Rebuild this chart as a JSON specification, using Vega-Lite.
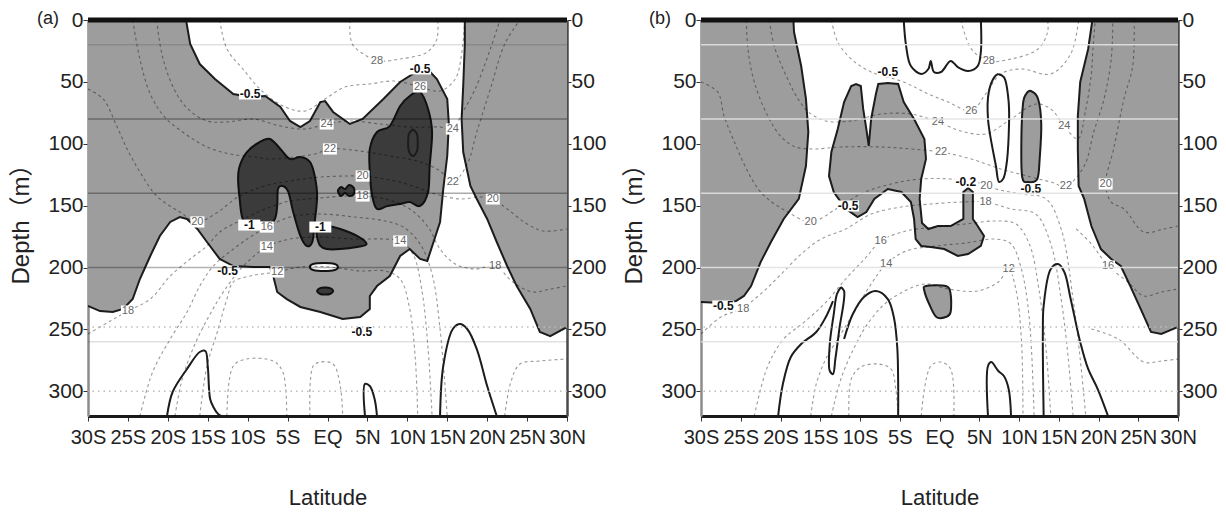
{
  "$schema": "https://vega.github.io/schema/vega-lite/v6.json",
  "background": "white",
  "padding": {"left": 9, "top": 9, "right": 5, "bottom": 2},
  "spacing": 15,
  "config": {
    "view": {"stroke": null},
    "font": "Liberation Sans",
    "axis": {
      "labelFont": "Liberation Sans",
      "labelFontSize": 21,
      "labelColor": "#222",
      "tickColor": "#333",
      "grid": false,
      "zindex": 1,
      "labelFlush": false,
      "labelOverlap": false,
      "titleFontWeight": "normal",
      "titleColor": "#222"
    }
  },
  "datasets": {
    "paths": [
      {"pn":"a","id":"ga1","k":"gray","lat":-31,"dep":-3},
      {"pn":"a","id":"ga1","k":"gray","lat":-17.8,"dep":-3},
      {"pn":"a","id":"ga1","k":"gray","lat":-17.2,"dep":19.4},
      {"pn":"a","id":"ga1","k":"gray","lat":-16.0,"dep":35.6},
      {"pn":"a","id":"ga1","k":"gray","lat":-14.1,"dep":47.7},
      {"pn":"a","id":"ga1","k":"gray","lat":-11.8,"dep":59.8},
      {"pn":"a","id":"ga1","k":"gray","lat":-9.7,"dep":62.2},
      {"pn":"a","id":"ga1","k":"gray","lat":-7.8,"dep":61.4},
      {"pn":"a","id":"ga1","k":"gray","lat":-5.9,"dep":70.3},
      {"pn":"a","id":"ga1","k":"gray","lat":-4.7,"dep":81.6},
      {"pn":"a","id":"ga1","k":"gray","lat":-3.4,"dep":86.5},
      {"pn":"a","id":"ga1","k":"gray","lat":-2.2,"dep":81.6},
      {"pn":"a","id":"ga1","k":"gray","lat":-0.9,"dep":66.3},
      {"pn":"a","id":"ga1","k":"gray","lat":-0.3,"dep":65.5},
      {"pn":"a","id":"ga1","k":"gray","lat":0.7,"dep":74.3},
      {"pn":"a","id":"ga1","k":"gray","lat":2.8,"dep":84.0},
      {"pn":"a","id":"ga1","k":"gray","lat":4.4,"dep":80.0},
      {"pn":"a","id":"ga1","k":"gray","lat":7.0,"dep":63.8},
      {"pn":"a","id":"ga1","k":"gray","lat":9.1,"dep":50.1},
      {"pn":"a","id":"ga1","k":"gray","lat":10.7,"dep":43.6},
      {"pn":"a","id":"ga1","k":"gray","lat":12.5,"dep":39.6},
      {"pn":"a","id":"ga1","k":"gray","lat":13.7,"dep":47.7},
      {"pn":"a","id":"ga1","k":"gray","lat":15.0,"dep":63.8},
      {"pn":"a","id":"ga1","k":"gray","lat":15.2,"dep":84.0},
      {"pn":"a","id":"ga1","k":"gray","lat":15.0,"dep":109.9},
      {"pn":"a","id":"ga1","k":"gray","lat":14.5,"dep":136.6},
      {"pn":"a","id":"ga1","k":"gray","lat":14.1,"dep":163.2},
      {"pn":"a","id":"ga1","k":"gray","lat":13.2,"dep":181.0},
      {"pn":"a","id":"ga1","k":"gray","lat":12.5,"dep":194.7},
      {"pn":"a","id":"ga1","k":"gray","lat":11.6,"dep":193.1},
      {"pn":"a","id":"ga1","k":"gray","lat":10.3,"dep":185.1},
      {"pn":"a","id":"ga1","k":"gray","lat":9.1,"dep":190.7},
      {"pn":"a","id":"ga1","k":"gray","lat":7.8,"dep":206.9},
      {"pn":"a","id":"ga1","k":"gray","lat":6.2,"dep":215.0},
      {"pn":"a","id":"ga1","k":"gray","lat":5.3,"dep":223.0},
      {"pn":"a","id":"ga1","k":"gray","lat":5.3,"dep":233.5},
      {"pn":"a","id":"ga1","k":"gray","lat":4.1,"dep":240.0},
      {"pn":"a","id":"ga1","k":"gray","lat":1.9,"dep":241.6},
      {"pn":"a","id":"ga1","k":"gray","lat":-0.9,"dep":236.0},
      {"pn":"a","id":"ga1","k":"gray","lat":-3.4,"dep":231.9},
      {"pn":"a","id":"ga1","k":"gray","lat":-5.1,"dep":225.5},
      {"pn":"a","id":"ga1","k":"gray","lat":-6.3,"dep":219.8},
      {"pn":"a","id":"ga1","k":"gray","lat":-6.8,"dep":206.9},
      {"pn":"a","id":"ga1","k":"gray","lat":-7.2,"dep":199.6},
      {"pn":"a","id":"ga1","k":"gray","lat":-9.3,"dep":199.6},
      {"pn":"a","id":"ga1","k":"gray","lat":-11.8,"dep":198.8},
      {"pn":"a","id":"ga1","k":"gray","lat":-13.5,"dep":193.1},
      {"pn":"a","id":"ga1","k":"gray","lat":-15.1,"dep":179.4},
      {"pn":"a","id":"ga1","k":"gray","lat":-16.3,"dep":168.9},
      {"pn":"a","id":"ga1","k":"gray","lat":-17.6,"dep":160.8},
      {"pn":"a","id":"ga1","k":"gray","lat":-18.5,"dep":159.2},
      {"pn":"a","id":"ga1","k":"gray","lat":-19.7,"dep":163.2},
      {"pn":"a","id":"ga1","k":"gray","lat":-21.0,"dep":174.5},
      {"pn":"a","id":"ga1","k":"gray","lat":-22.2,"dep":190.7},
      {"pn":"a","id":"ga1","k":"gray","lat":-23.5,"dep":209.3},
      {"pn":"a","id":"ga1","k":"gray","lat":-24.4,"dep":225.5},
      {"pn":"a","id":"ga1","k":"gray","lat":-25.6,"dep":233.5},
      {"pn":"a","id":"ga1","k":"gray","lat":-26.9,"dep":236.0},
      {"pn":"a","id":"ga1","k":"gray","lat":-28.5,"dep":235.2},
      {"pn":"a","id":"ga1","k":"gray","lat":-30,"dep":231.1},
      {"pn":"a","id":"ga1","k":"gray","lat":-31,"dep":231},

      {"pn":"a","id":"ga2","k":"gray","lat":17.2,"dep":-3},
      {"pn":"a","id":"ga2","k":"gray","lat":31,"dep":-3},
      {"pn":"a","id":"ga2","k":"gray","lat":31,"dep":248.1},
      {"pn":"a","id":"ga2","k":"gray","lat":30,"dep":248.1},
      {"pn":"a","id":"ga2","k":"gray","lat":27.9,"dep":255.4},
      {"pn":"a","id":"ga2","k":"gray","lat":26.6,"dep":252.1},
      {"pn":"a","id":"ga2","k":"gray","lat":25.4,"dep":233.5},
      {"pn":"a","id":"ga2","k":"gray","lat":23.7,"dep":215.0},
      {"pn":"a","id":"ga2","k":"gray","lat":22.5,"dep":198.8},
      {"pn":"a","id":"ga2","k":"gray","lat":21.2,"dep":179.4},
      {"pn":"a","id":"ga2","k":"gray","lat":20.0,"dep":160.8},
      {"pn":"a","id":"ga2","k":"gray","lat":18.7,"dep":144.6},
      {"pn":"a","id":"ga2","k":"gray","lat":17.9,"dep":134.1},
      {"pn":"a","id":"ga2","k":"gray","lat":17.0,"dep":106.7},
      {"pn":"a","id":"ga2","k":"gray","lat":16.8,"dep":80.0},
      {"pn":"a","id":"ga2","k":"gray","lat":17.0,"dep":53.3},
      {"pn":"a","id":"ga2","k":"gray","lat":17.2,"dep":19.4},

      {"pn":"a","id":"da1","k":"dark","lat":-11.0,"dep":118.0},
      {"pn":"a","id":"da1","k":"dark","lat":-10.1,"dep":106.7},
      {"pn":"a","id":"da1","k":"dark","lat":-8.5,"dep":98.6},
      {"pn":"a","id":"da1","k":"dark","lat":-7.2,"dep":96.2},
      {"pn":"a","id":"da1","k":"dark","lat":-5.9,"dep":104.2},
      {"pn":"a","id":"da1","k":"dark","lat":-4.7,"dep":112.3},
      {"pn":"a","id":"da1","k":"dark","lat":-3.4,"dep":110.7},
      {"pn":"a","id":"da1","k":"dark","lat":-2.2,"dep":114.7},
      {"pn":"a","id":"da1","k":"dark","lat":-1.6,"dep":126.1},
      {"pn":"a","id":"da1","k":"dark","lat":-1.3,"dep":142.2},
      {"pn":"a","id":"da1","k":"dark","lat":-1.6,"dep":163.2},
      {"pn":"a","id":"da1","k":"dark","lat":-1.9,"dep":179.4},
      {"pn":"a","id":"da1","k":"dark","lat":-2.6,"dep":182.6},
      {"pn":"a","id":"da1","k":"dark","lat":-3.4,"dep":174.5},
      {"pn":"a","id":"da1","k":"dark","lat":-4.3,"dep":155.2},
      {"pn":"a","id":"da1","k":"dark","lat":-4.9,"dep":139.0},
      {"pn":"a","id":"da1","k":"dark","lat":-5.6,"dep":134.1},
      {"pn":"a","id":"da1","k":"dark","lat":-6.2,"dep":136.6},
      {"pn":"a","id":"da1","k":"dark","lat":-6.3,"dep":150.3},
      {"pn":"a","id":"da1","k":"dark","lat":-6.6,"dep":160.8},
      {"pn":"a","id":"da1","k":"dark","lat":-7.6,"dep":166.5},
      {"pn":"a","id":"da1","k":"dark","lat":-9.3,"dep":166.5},
      {"pn":"a","id":"da1","k":"dark","lat":-10.6,"dep":160.8},
      {"pn":"a","id":"da1","k":"dark","lat":-11.0,"dep":144.6},
      {"pn":"a","id":"da1","k":"dark","lat":-11.2,"dep":128.5},

      {"pn":"a","id":"da2","k":"dark","lat":5.3,"dep":104.2},
      {"pn":"a","id":"da2","k":"dark","lat":6.2,"dep":90.5},
      {"pn":"a","id":"da2","k":"dark","lat":7.8,"dep":85.7},
      {"pn":"a","id":"da2","k":"dark","lat":9.1,"dep":69.5},
      {"pn":"a","id":"da2","k":"dark","lat":10.3,"dep":61.4},
      {"pn":"a","id":"da2","k":"dark","lat":11.6,"dep":58.2},
      {"pn":"a","id":"da2","k":"dark","lat":12.6,"dep":71.9},
      {"pn":"a","id":"da2","k":"dark","lat":13.1,"dep":90.5},
      {"pn":"a","id":"da2","k":"dark","lat":12.8,"dep":118.0},
      {"pn":"a","id":"da2","k":"dark","lat":12.6,"dep":139.0},
      {"pn":"a","id":"da2","k":"dark","lat":11.6,"dep":150.3},
      {"pn":"a","id":"da2","k":"dark","lat":10.3,"dep":147.1},
      {"pn":"a","id":"da2","k":"dark","lat":9.1,"dep":148.7},
      {"pn":"a","id":"da2","k":"dark","lat":7.5,"dep":150.3},
      {"pn":"a","id":"da2","k":"dark","lat":6.2,"dep":152.7},
      {"pn":"a","id":"da2","k":"dark","lat":5.6,"dep":142.2},
      {"pn":"a","id":"da2","k":"dark","lat":5.3,"dep":122.8},

      {"pn":"a","id":"da3","k":"dark","lat":1.3,"dep":138.2},
      {"pn":"a","id":"da3","k":"dark","lat":1.7,"dep":135.0},
      {"pn":"a","id":"da3","k":"dark","lat":2.2,"dep":136.6},
      {"pn":"a","id":"da3","k":"dark","lat":2.7,"dep":133.3},
      {"pn":"a","id":"da3","k":"dark","lat":3.3,"dep":135.8},
      {"pn":"a","id":"da3","k":"dark","lat":3.3,"dep":140.6},
      {"pn":"a","id":"da3","k":"dark","lat":2.7,"dep":142.2},
      {"pn":"a","id":"da3","k":"dark","lat":2.2,"dep":139.8},
      {"pn":"a","id":"da3","k":"dark","lat":1.7,"dep":142.2},

      {"pn":"a","id":"da4","k":"dark","lat":-1.3,"dep":168.9},
      {"pn":"a","id":"da4","k":"dark","lat":-0.1,"dep":166.5},
      {"pn":"a","id":"da4","k":"dark","lat":1.6,"dep":168.9},
      {"pn":"a","id":"da4","k":"dark","lat":3.7,"dep":174.5},
      {"pn":"a","id":"da4","k":"dark","lat":4.9,"dep":181.0},
      {"pn":"a","id":"da4","k":"dark","lat":3.7,"dep":183.4},
      {"pn":"a","id":"da4","k":"dark","lat":1.6,"dep":185.1},
      {"pn":"a","id":"da4","k":"dark","lat":-0.1,"dep":185.1},
      {"pn":"a","id":"da4","k":"dark","lat":-0.9,"dep":182.6},
      {"pn":"a","id":"da4","k":"dark","lat":-1.3,"dep":175.4},

      {"pn":"a","id":"da5","k":"dark","lat":-1.3,"dep":219.0},
      {"pn":"a","id":"da5","k":"dark","lat":-0.9,"dep":216.6},
      {"pn":"a","id":"da5","k":"dark","lat":-0.3,"dep":216.2},
      {"pn":"a","id":"da5","k":"dark","lat":0.3,"dep":216.6},
      {"pn":"a","id":"da5","k":"dark","lat":0.7,"dep":219.0},
      {"pn":"a","id":"da5","k":"dark","lat":0.3,"dep":221.4},
      {"pn":"a","id":"da5","k":"dark","lat":-0.3,"dep":221.8},
      {"pn":"a","id":"da5","k":"dark","lat":-0.9,"dep":221.4},

      {"pn":"a","id":"wa1","k":"hole","lat":-2.2,"dep":199.6},
      {"pn":"a","id":"wa1","k":"hole","lat":-1.8,"dep":197.2},
      {"pn":"a","id":"wa1","k":"hole","lat":-0.4,"dep":196.4},
      {"pn":"a","id":"wa1","k":"hole","lat":0.9,"dep":197.2},
      {"pn":"a","id":"wa1","k":"hole","lat":1.3,"dep":199.6},
      {"pn":"a","id":"wa1","k":"hole","lat":0.9,"dep":202.0},
      {"pn":"a","id":"wa1","k":"hole","lat":-0.4,"dep":202.8},
      {"pn":"a","id":"wa1","k":"hole","lat":-1.8,"dep":202.0},

      {"pn":"a","id":"oa1","k":"line","lat":-20.1,"dep":320},
      {"pn":"a","id":"oa1","k":"line","lat":-19.4,"dep":300.6},
      {"pn":"a","id":"oa1","k":"line","lat":-17.6,"dep":282.0},
      {"pn":"a","id":"oa1","k":"line","lat":-16.0,"dep":268.3},
      {"pn":"a","id":"oa1","k":"line","lat":-15.3,"dep":267.5},
      {"pn":"a","id":"oa1","k":"line","lat":-15.0,"dep":279.6},
      {"pn":"a","id":"oa1","k":"line","lat":-14.7,"dep":306.3},
      {"pn":"a","id":"oa1","k":"line","lat":-14.3,"dep":312.7},
      {"pn":"a","id":"oa1","k":"line","lat":-13.7,"dep":318.4},
      {"pn":"a","id":"oa1","k":"line","lat":-13.3,"dep":320},
      {"pn":"a","id":"oa2","k":"line","lat":14.1,"dep":320},
      {"pn":"a","id":"oa2","k":"line","lat":14.5,"dep":279.6},
      {"pn":"a","id":"oa2","k":"line","lat":15.7,"dep":249.7},
      {"pn":"a","id":"oa2","k":"line","lat":16.6,"dep":245.7},
      {"pn":"a","id":"oa2","k":"line","lat":17.5,"dep":249.7},
      {"pn":"a","id":"oa2","k":"line","lat":18.7,"dep":265.9},
      {"pn":"a","id":"oa2","k":"line","lat":20.0,"dep":295.8},
      {"pn":"a","id":"oa2","k":"line","lat":21.2,"dep":320},
      {"pn":"a","id":"oa3","k":"line","lat":4.7,"dep":320},
      {"pn":"a","id":"oa3","k":"line","lat":4.7,"dep":294.1},
      {"pn":"a","id":"oa3","k":"line","lat":5.3,"dep":295.8},
      {"pn":"a","id":"oa3","k":"line","lat":5.9,"dep":306.3},
      {"pn":"a","id":"oa3","k":"line","lat":6.2,"dep":320},
      {"pn":"a","id":"oa4","k":"line","lat":10.7,"dep":88.1},
      {"pn":"a","id":"oa4","k":"line","lat":11.2,"dep":92.1},
      {"pn":"a","id":"oa4","k":"line","lat":11.3,"dep":98.6},
      {"pn":"a","id":"oa4","k":"line","lat":11.2,"dep":105.9},
      {"pn":"a","id":"oa4","k":"line","lat":10.7,"dep":109.9},
      {"pn":"a","id":"oa4","k":"line","lat":10.2,"dep":105.9},
      {"pn":"a","id":"oa4","k":"line","lat":10.1,"dep":98.6},
      {"pn":"a","id":"oa4","k":"line","lat":10.2,"dep":92.1},
      {"pn":"a","id":"oa4","k":"line","lat":10.7,"dep":88.1},

      {"pn":"a","id":"t28","k":"iso","lat":2.8,"dep":0},
      {"pn":"a","id":"t28","k":"iso","lat":3.1,"dep":19.4},
      {"pn":"a","id":"t28","k":"iso","lat":4.9,"dep":29.1},
      {"pn":"a","id":"t28","k":"iso","lat":6.2,"dep":33.1},
      {"pn":"a","id":"t28","k":"iso","lat":9.1,"dep":31.5},
      {"pn":"a","id":"t28","k":"iso","lat":12.5,"dep":25.9},
      {"pn":"a","id":"t28","k":"iso","lat":13.7,"dep":15.4},
      {"pn":"a","id":"t28","k":"iso","lat":13.8,"dep":0},
      {"pn":"a","id":"t26","k":"iso","lat":-13.5,"dep":0},
      {"pn":"a","id":"t26","k":"iso","lat":-12.6,"dep":23.4},
      {"pn":"a","id":"t26","k":"iso","lat":-10.6,"dep":39.6},
      {"pn":"a","id":"t26","k":"iso","lat":-8.2,"dep":57.4},
      {"pn":"a","id":"t26","k":"iso","lat":-5.3,"dep":70.3},
      {"pn":"a","id":"t26","k":"iso","lat":-2.8,"dep":73.5},
      {"pn":"a","id":"t26","k":"iso","lat":-0.3,"dep":63.8},
      {"pn":"a","id":"t26","k":"iso","lat":2.2,"dep":54.1},
      {"pn":"a","id":"t26","k":"iso","lat":5.3,"dep":51.7},
      {"pn":"a","id":"t26","k":"iso","lat":8.5,"dep":49.3},
      {"pn":"a","id":"t26","k":"iso","lat":11.6,"dep":54.1},
      {"pn":"a","id":"t26","k":"iso","lat":14.1,"dep":57.4},
      {"pn":"a","id":"t26","k":"iso","lat":16.0,"dep":47.7},
      {"pn":"a","id":"t26","k":"iso","lat":16.8,"dep":27.5},
      {"pn":"a","id":"t26","k":"iso","lat":17.2,"dep":0},
      {"pn":"a","id":"t24","k":"iso","lat":-21.4,"dep":0},
      {"pn":"a","id":"t24","k":"iso","lat":-20.6,"dep":31.5},
      {"pn":"a","id":"t24","k":"iso","lat":-18.9,"dep":59.8},
      {"pn":"a","id":"t24","k":"iso","lat":-17.2,"dep":73.5},
      {"pn":"a","id":"t24","k":"iso","lat":-15.1,"dep":81.6},
      {"pn":"a","id":"t24","k":"iso","lat":-12.6,"dep":82.4},
      {"pn":"a","id":"t24","k":"iso","lat":-9.3,"dep":80.0},
      {"pn":"a","id":"t24","k":"iso","lat":-5.9,"dep":85.7},
      {"pn":"a","id":"t24","k":"iso","lat":-2.8,"dep":88.1},
      {"pn":"a","id":"t24","k":"iso","lat":-0.1,"dep":84.0},
      {"pn":"a","id":"t24","k":"iso","lat":2.8,"dep":81.6},
      {"pn":"a","id":"t24","k":"iso","lat":6.6,"dep":84.0},
      {"pn":"a","id":"t24","k":"iso","lat":10.3,"dep":86.5},
      {"pn":"a","id":"t24","k":"iso","lat":14.1,"dep":86.5},
      {"pn":"a","id":"t24","k":"iso","lat":15.7,"dep":88.1},
      {"pn":"a","id":"t24","k":"iso","lat":16.8,"dep":76.0},
      {"pn":"a","id":"t24","k":"iso","lat":18.5,"dep":55.8},
      {"pn":"a","id":"t24","k":"iso","lat":20.4,"dep":23.4},
      {"pn":"a","id":"t24","k":"iso","lat":21.6,"dep":0},
      {"pn":"a","id":"t22","k":"iso","lat":-24.4,"dep":0},
      {"pn":"a","id":"t22","k":"iso","lat":-23.5,"dep":31.5},
      {"pn":"a","id":"t22","k":"iso","lat":-22.2,"dep":59.8},
      {"pn":"a","id":"t22","k":"iso","lat":-20.4,"dep":78.4},
      {"pn":"a","id":"t22","k":"iso","lat":-17.8,"dep":92.1},
      {"pn":"a","id":"t22","k":"iso","lat":-15.1,"dep":102.6},
      {"pn":"a","id":"t22","k":"iso","lat":-12.2,"dep":108.3},
      {"pn":"a","id":"t22","k":"iso","lat":-9.1,"dep":110.7},
      {"pn":"a","id":"t22","k":"iso","lat":-7.2,"dep":112.3},
      {"pn":"a","id":"t22","k":"iso","lat":-4.1,"dep":110.7},
      {"pn":"a","id":"t22","k":"iso","lat":-1.6,"dep":108.3},
      {"pn":"a","id":"t22","k":"iso","lat":0.3,"dep":104.2},
      {"pn":"a","id":"t22","k":"iso","lat":4.1,"dep":105.9},
      {"pn":"a","id":"t22","k":"iso","lat":7.8,"dep":109.9},
      {"pn":"a","id":"t22","k":"iso","lat":11.6,"dep":114.7},
      {"pn":"a","id":"t22","k":"iso","lat":14.1,"dep":122.0},
      {"pn":"a","id":"t22","k":"iso","lat":15.7,"dep":130.9},
      {"pn":"a","id":"t22","k":"iso","lat":17.5,"dep":116.4},
      {"pn":"a","id":"t22","k":"iso","lat":18.7,"dep":90.5},
      {"pn":"a","id":"t22","k":"iso","lat":20.4,"dep":55.8},
      {"pn":"a","id":"t22","k":"iso","lat":22.2,"dep":19.4},
      {"pn":"a","id":"t22","k":"iso","lat":24.1,"dep":0},
      {"pn":"a","id":"t20","k":"iso","lat":-30,"dep":55.8},
      {"pn":"a","id":"t20","k":"iso","lat":-28.1,"dep":63.8},
      {"pn":"a","id":"t20","k":"iso","lat":-26.4,"dep":85.7},
      {"pn":"a","id":"t20","k":"iso","lat":-25.1,"dep":104.2},
      {"pn":"a","id":"t20","k":"iso","lat":-23.5,"dep":122.8},
      {"pn":"a","id":"t20","k":"iso","lat":-21.4,"dep":142.2},
      {"pn":"a","id":"t20","k":"iso","lat":-18.5,"dep":155.2},
      {"pn":"a","id":"t20","k":"iso","lat":-16.3,"dep":163.2},
      {"pn":"a","id":"t20","k":"iso","lat":-14.1,"dep":156.8},
      {"pn":"a","id":"t20","k":"iso","lat":-11.0,"dep":142.2},
      {"pn":"a","id":"t20","k":"iso","lat":-7.8,"dep":134.1},
      {"pn":"a","id":"t20","k":"iso","lat":-4.7,"dep":130.1},
      {"pn":"a","id":"t20","k":"iso","lat":-0.9,"dep":126.9},
      {"pn":"a","id":"t20","k":"iso","lat":2.2,"dep":126.1},
      {"pn":"a","id":"t20","k":"iso","lat":4.4,"dep":126.1},
      {"pn":"a","id":"t20","k":"iso","lat":7.2,"dep":128.5},
      {"pn":"a","id":"t20","k":"iso","lat":10.3,"dep":133.3},
      {"pn":"a","id":"t20","k":"iso","lat":13.5,"dep":140.6},
      {"pn":"a","id":"t20","k":"iso","lat":16.6,"dep":144.6},
      {"pn":"a","id":"t20","k":"iso","lat":19.1,"dep":143.0},
      {"pn":"a","id":"t20","k":"iso","lat":20.7,"dep":144.6},
      {"pn":"a","id":"t20","k":"iso","lat":22.5,"dep":152.7},
      {"pn":"a","id":"t20","k":"iso","lat":25.0,"dep":164.8},
      {"pn":"a","id":"t20","k":"iso","lat":27.0,"dep":170.5},
      {"pn":"a","id":"t20","k":"iso","lat":30,"dep":168.9},
      {"pn":"a","id":"t18","k":"iso","lat":-30,"dep":253.7},
      {"pn":"a","id":"t18","k":"iso","lat":-27.2,"dep":243.2},
      {"pn":"a","id":"t18","k":"iso","lat":-25.0,"dep":235.2},
      {"pn":"a","id":"t18","k":"iso","lat":-22.2,"dep":225.5},
      {"pn":"a","id":"t18","k":"iso","lat":-19.7,"dep":206.9},
      {"pn":"a","id":"t18","k":"iso","lat":-17.2,"dep":193.1},
      {"pn":"a","id":"t18","k":"iso","lat":-15.1,"dep":182.6},
      {"pn":"a","id":"t18","k":"iso","lat":-13.5,"dep":171.3},
      {"pn":"a","id":"t18","k":"iso","lat":-11.0,"dep":162.4},
      {"pn":"a","id":"t18","k":"iso","lat":-7.8,"dep":152.7},
      {"pn":"a","id":"t18","k":"iso","lat":-4.7,"dep":146.3},
      {"pn":"a","id":"t18","k":"iso","lat":-0.9,"dep":143.8},
      {"pn":"a","id":"t18","k":"iso","lat":2.2,"dep":142.2},
      {"pn":"a","id":"t18","k":"iso","lat":4.4,"dep":142.2},
      {"pn":"a","id":"t18","k":"iso","lat":7.2,"dep":144.6},
      {"pn":"a","id":"t18","k":"iso","lat":10.3,"dep":152.7},
      {"pn":"a","id":"t18","k":"iso","lat":12.6,"dep":167.3},
      {"pn":"a","id":"t18","k":"iso","lat":14.1,"dep":185.1},
      {"pn":"a","id":"t18","k":"iso","lat":16.0,"dep":197.2},
      {"pn":"a","id":"t18","k":"iso","lat":18.5,"dep":201.2},
      {"pn":"a","id":"t18","k":"iso","lat":21.0,"dep":198.8},
      {"pn":"a","id":"t18","k":"iso","lat":23.2,"dep":211.7},
      {"pn":"a","id":"t18","k":"iso","lat":25.7,"dep":219.8},
      {"pn":"a","id":"t18","k":"iso","lat":27.9,"dep":217.4},
      {"pn":"a","id":"t18","k":"iso","lat":30,"dep":215.0},
      {"pn":"a","id":"t16","k":"iso","lat":-23.5,"dep":320},
      {"pn":"a","id":"t16","k":"iso","lat":-21.9,"dep":284.4},
      {"pn":"a","id":"t16","k":"iso","lat":-19.7,"dep":257.8},
      {"pn":"a","id":"t16","k":"iso","lat":-17.6,"dep":236.0},
      {"pn":"a","id":"t16","k":"iso","lat":-16.0,"dep":215.0},
      {"pn":"a","id":"t16","k":"iso","lat":-14.3,"dep":198.8},
      {"pn":"a","id":"t16","k":"iso","lat":-11.8,"dep":185.1},
      {"pn":"a","id":"t16","k":"iso","lat":-9.7,"dep":175.4},
      {"pn":"a","id":"t16","k":"iso","lat":-7.6,"dep":167.3},
      {"pn":"a","id":"t16","k":"iso","lat":-4.7,"dep":159.2},
      {"pn":"a","id":"t16","k":"iso","lat":-0.9,"dep":156.8},
      {"pn":"a","id":"t16","k":"iso","lat":3.4,"dep":159.2},
      {"pn":"a","id":"t16","k":"iso","lat":7.2,"dep":162.4},
      {"pn":"a","id":"t16","k":"iso","lat":9.5,"dep":167.3},
      {"pn":"a","id":"t16","k":"iso","lat":11.6,"dep":181.0},
      {"pn":"a","id":"t16","k":"iso","lat":13.1,"dep":205.3},
      {"pn":"a","id":"t16","k":"iso","lat":14.1,"dep":249.7},
      {"pn":"a","id":"t16","k":"iso","lat":15.0,"dep":320},
      {"pn":"a","id":"t14","k":"iso","lat":-19.1,"dep":320},
      {"pn":"a","id":"t14","k":"iso","lat":-18.2,"dep":290.1},
      {"pn":"a","id":"t14","k":"iso","lat":-16.6,"dep":261.8},
      {"pn":"a","id":"t14","k":"iso","lat":-14.7,"dep":237.6},
      {"pn":"a","id":"t14","k":"iso","lat":-12.8,"dep":217.4},
      {"pn":"a","id":"t14","k":"iso","lat":-10.3,"dep":197.2},
      {"pn":"a","id":"t14","k":"iso","lat":-7.6,"dep":183.4},
      {"pn":"a","id":"t14","k":"iso","lat":-4.7,"dep":177.0},
      {"pn":"a","id":"t14","k":"iso","lat":-0.9,"dep":175.4},
      {"pn":"a","id":"t14","k":"iso","lat":3.4,"dep":177.0},
      {"pn":"a","id":"t14","k":"iso","lat":7.2,"dep":177.0},
      {"pn":"a","id":"t14","k":"iso","lat":9.1,"dep":178.6},
      {"pn":"a","id":"t14","k":"iso","lat":10.7,"dep":189.1},
      {"pn":"a","id":"t14","k":"iso","lat":11.8,"dep":217.4},
      {"pn":"a","id":"t14","k":"iso","lat":12.6,"dep":265.9},
      {"pn":"a","id":"t14","k":"iso","lat":13.1,"dep":320},
      {"pn":"a","id":"t12","k":"iso","lat":-16.0,"dep":320},
      {"pn":"a","id":"t12","k":"iso","lat":-15.1,"dep":279.6},
      {"pn":"a","id":"t12","k":"iso","lat":-13.8,"dep":252.1},
      {"pn":"a","id":"t12","k":"iso","lat":-12.6,"dep":225.5},
      {"pn":"a","id":"t12","k":"iso","lat":-11.8,"dep":211.7},
      {"pn":"a","id":"t12","k":"iso","lat":-9.7,"dep":206.9},
      {"pn":"a","id":"t12","k":"iso","lat":-6.3,"dep":203.6},
      {"pn":"a","id":"t12","k":"iso","lat":-3.4,"dep":199.6},
      {"pn":"a","id":"t12","k":"iso","lat":0.3,"dep":199.6},
      {"pn":"a","id":"t12","k":"iso","lat":4.1,"dep":202.8},
      {"pn":"a","id":"t12","k":"iso","lat":7.2,"dep":202.8},
      {"pn":"a","id":"t12","k":"iso","lat":9.1,"dep":209.3},
      {"pn":"a","id":"t12","k":"iso","lat":10.3,"dep":233.5},
      {"pn":"a","id":"t12","k":"iso","lat":11.0,"dep":273.9},
      {"pn":"a","id":"t12","k":"iso","lat":11.3,"dep":320},
      {"pn":"a","id":"t10a","k":"iso","lat":-12.6,"dep":320},
      {"pn":"a","id":"t10a","k":"iso","lat":-11.8,"dep":279.6},
      {"pn":"a","id":"t10a","k":"iso","lat":-10.1,"dep":273.9},
      {"pn":"a","id":"t10a","k":"iso","lat":-6.8,"dep":275.6},
      {"pn":"a","id":"t10a","k":"iso","lat":-5.6,"dep":284.4},
      {"pn":"a","id":"t10a","k":"iso","lat":-5.1,"dep":320},
      {"pn":"a","id":"t10b","k":"iso","lat":-2.2,"dep":320},
      {"pn":"a","id":"t10b","k":"iso","lat":-1.8,"dep":279.6},
      {"pn":"a","id":"t10b","k":"iso","lat":-0.9,"dep":276.4},
      {"pn":"a","id":"t10b","k":"iso","lat":0.7,"dep":278.0},
      {"pn":"a","id":"t10b","k":"iso","lat":1.6,"dep":295.8},
      {"pn":"a","id":"t10b","k":"iso","lat":1.9,"dep":320},
      {"pn":"a","id":"tra","k":"iso","lat":22.2,"dep":320},
      {"pn":"a","id":"tra","k":"iso","lat":22.9,"dep":294.1},
      {"pn":"a","id":"tra","k":"iso","lat":24.1,"dep":278.0},
      {"pn":"a","id":"tra","k":"iso","lat":26.6,"dep":275.6},
      {"pn":"a","id":"tra","k":"iso","lat":30,"dep":273.9},

      {"pn":"b","id":"gb1","k":"gray","lat":-31,"dep":-3},
      {"pn":"b","id":"gb1","k":"gray","lat":-18.4,"dep":-3},
      {"pn":"b","id":"gb1","k":"gray","lat":-18.3,"dep":9.7},
      {"pn":"b","id":"gb1","k":"gray","lat":-17.4,"dep":37.2},
      {"pn":"b","id":"gb1","k":"gray","lat":-16.8,"dep":63.8},
      {"pn":"b","id":"gb1","k":"gray","lat":-16.5,"dep":90.5},
      {"pn":"b","id":"gb1","k":"gray","lat":-16.8,"dep":118.0},
      {"pn":"b","id":"gb1","k":"gray","lat":-17.7,"dep":144.6},
      {"pn":"b","id":"gb1","k":"gray","lat":-19.6,"dep":160.8},
      {"pn":"b","id":"gb1","k":"gray","lat":-21.2,"dep":179.4},
      {"pn":"b","id":"gb1","k":"gray","lat":-22.5,"dep":195.6},
      {"pn":"b","id":"gb1","k":"gray","lat":-23.7,"dep":215.0},
      {"pn":"b","id":"gb1","k":"gray","lat":-24.6,"dep":223.0},
      {"pn":"b","id":"gb1","k":"gray","lat":-25.6,"dep":227.1},
      {"pn":"b","id":"gb1","k":"gray","lat":-27.5,"dep":228.7},
      {"pn":"b","id":"gb1","k":"gray","lat":-30,"dep":227.9},
      {"pn":"b","id":"gb1","k":"gray","lat":-31,"dep":227.9},

      {"pn":"b","id":"gb2","k":"gray","lat":19.3,"dep":-3},
      {"pn":"b","id":"gb2","k":"gray","lat":31,"dep":-3},
      {"pn":"b","id":"gb2","k":"gray","lat":31,"dep":248.1},
      {"pn":"b","id":"gb2","k":"gray","lat":30,"dep":248.1},
      {"pn":"b","id":"gb2","k":"gray","lat":27.9,"dep":253.7},
      {"pn":"b","id":"gb2","k":"gray","lat":26.6,"dep":252.1},
      {"pn":"b","id":"gb2","k":"gray","lat":25.3,"dep":233.5},
      {"pn":"b","id":"gb2","k":"gray","lat":24.0,"dep":215.0},
      {"pn":"b","id":"gb2","k":"gray","lat":22.8,"dep":198.8},
      {"pn":"b","id":"gb2","k":"gray","lat":21.6,"dep":193.1},
      {"pn":"b","id":"gb2","k":"gray","lat":20.3,"dep":185.1},
      {"pn":"b","id":"gb2","k":"gray","lat":19.1,"dep":166.5},
      {"pn":"b","id":"gb2","k":"gray","lat":18.2,"dep":144.6},
      {"pn":"b","id":"gb2","k":"gray","lat":17.5,"dep":134.1},
      {"pn":"b","id":"gb2","k":"gray","lat":17.4,"dep":104.2},
      {"pn":"b","id":"gb2","k":"gray","lat":17.4,"dep":77.6},
      {"pn":"b","id":"gb2","k":"gray","lat":17.7,"dep":50.1},
      {"pn":"b","id":"gb2","k":"gray","lat":18.7,"dep":23.4},

      {"pn":"b","id":"gb3","k":"gray","lat":-11.1,"dep":53.3},
      {"pn":"b","id":"gb3","k":"gray","lat":-12.0,"dep":66.3},
      {"pn":"b","id":"gb3","k":"gray","lat":-12.8,"dep":88.1},
      {"pn":"b","id":"gb3","k":"gray","lat":-13.6,"dep":106.7},
      {"pn":"b","id":"gb3","k":"gray","lat":-13.9,"dep":126.1},
      {"pn":"b","id":"gb3","k":"gray","lat":-13.3,"dep":139.0},
      {"pn":"b","id":"gb3","k":"gray","lat":-12.4,"dep":147.1},
      {"pn":"b","id":"gb3","k":"gray","lat":-11.4,"dep":154.3},
      {"pn":"b","id":"gb3","k":"gray","lat":-10.3,"dep":159.2},
      {"pn":"b","id":"gb3","k":"gray","lat":-9.2,"dep":155.2},
      {"pn":"b","id":"gb3","k":"gray","lat":-8.2,"dep":144.6},
      {"pn":"b","id":"gb3","k":"gray","lat":-6.5,"dep":136.6},
      {"pn":"b","id":"gb3","k":"gray","lat":-4.8,"dep":139.0},
      {"pn":"b","id":"gb3","k":"gray","lat":-3.6,"dep":147.1},
      {"pn":"b","id":"gb3","k":"gray","lat":-3.2,"dep":160.8},
      {"pn":"b","id":"gb3","k":"gray","lat":-3.0,"dep":177.0},
      {"pn":"b","id":"gb3","k":"gray","lat":-2.3,"dep":182.6},
      {"pn":"b","id":"gb3","k":"gray","lat":-1.1,"dep":183.4},
      {"pn":"b","id":"gb3","k":"gray","lat":0.6,"dep":185.1},
      {"pn":"b","id":"gb3","k":"gray","lat":2.3,"dep":190.7},
      {"pn":"b","id":"gb3","k":"gray","lat":3.6,"dep":189.1},
      {"pn":"b","id":"gb3","k":"gray","lat":5.2,"dep":182.6},
      {"pn":"b","id":"gb3","k":"gray","lat":5.6,"dep":174.5},
      {"pn":"b","id":"gb3","k":"gray","lat":4.8,"dep":166.5},
      {"pn":"b","id":"gb3","k":"gray","lat":4.2,"dep":160.8},
      {"pn":"b","id":"gb3","k":"gray","lat":4.2,"dep":139.0},
      {"pn":"b","id":"gb3","k":"gray","lat":3.6,"dep":135.8},
      {"pn":"b","id":"gb3","k":"gray","lat":3.0,"dep":139.0},
      {"pn":"b","id":"gb3","k":"gray","lat":3.0,"dep":160.8},
      {"pn":"b","id":"gb3","k":"gray","lat":1.4,"dep":166.5},
      {"pn":"b","id":"gb3","k":"gray","lat":-0.2,"dep":166.5},
      {"pn":"b","id":"gb3","k":"gray","lat":-1.4,"dep":168.9},
      {"pn":"b","id":"gb3","k":"gray","lat":-2.2,"dep":164.0},
      {"pn":"b","id":"gb3","k":"gray","lat":-2.5,"dep":144.6},
      {"pn":"b","id":"gb3","k":"gray","lat":-2.3,"dep":128.5},
      {"pn":"b","id":"gb3","k":"gray","lat":-1.7,"dep":112.3},
      {"pn":"b","id":"gb3","k":"gray","lat":-1.9,"dep":96.2},
      {"pn":"b","id":"gb3","k":"gray","lat":-3.2,"dep":80.0},
      {"pn":"b","id":"gb3","k":"gray","lat":-4.5,"dep":66.3},
      {"pn":"b","id":"gb3","k":"gray","lat":-5.2,"dep":51.7},
      {"pn":"b","id":"gb3","k":"gray","lat":-6.5,"dep":50.9},
      {"pn":"b","id":"gb3","k":"gray","lat":-7.7,"dep":51.7},
      {"pn":"b","id":"gb3","k":"gray","lat":-8.0,"dep":59.8},
      {"pn":"b","id":"gb3","k":"gray","lat":-8.6,"dep":80.0},
      {"pn":"b","id":"gb3","k":"gray","lat":-8.9,"dep":101.8},
      {"pn":"b","id":"gb3","k":"gray","lat":-9.2,"dep":88.1},
      {"pn":"b","id":"gb3","k":"gray","lat":-9.6,"dep":71.9},
      {"pn":"b","id":"gb3","k":"gray","lat":-9.9,"dep":53.3},
      {"pn":"b","id":"gb3","k":"gray","lat":-10.5,"dep":51.7},

      {"pn":"b","id":"gb4","k":"grayc","lat":-1.7,"dep":215.0},
      {"pn":"b","id":"gb4","k":"grayc","lat":0.8,"dep":215.0},
      {"pn":"b","id":"gb4","k":"grayc","lat":1.4,"dep":221.4},
      {"pn":"b","id":"gb4","k":"grayc","lat":1.4,"dep":236.0},
      {"pn":"b","id":"gb4","k":"grayc","lat":0.8,"dep":240.0},
      {"pn":"b","id":"gb4","k":"grayc","lat":-0.4,"dep":240.0},
      {"pn":"b","id":"gb4","k":"grayc","lat":-1.3,"dep":229.5},
      {"pn":"b","id":"gb4","k":"grayc","lat":-1.9,"dep":219.0},

      {"pn":"b","id":"gb5","k":"grayc","lat":11.5,"dep":57.4},
      {"pn":"b","id":"gb5","k":"grayc","lat":12.4,"dep":63.8},
      {"pn":"b","id":"gb5","k":"grayc","lat":12.8,"dep":84.0},
      {"pn":"b","id":"gb5","k":"grayc","lat":12.6,"dep":112.3},
      {"pn":"b","id":"gb5","k":"grayc","lat":12.3,"dep":128.5},
      {"pn":"b","id":"gb5","k":"grayc","lat":11.2,"dep":130.9},
      {"pn":"b","id":"gb5","k":"grayc","lat":10.4,"dep":126.9},
      {"pn":"b","id":"gb5","k":"grayc","lat":10.3,"dep":96.2},
      {"pn":"b","id":"gb5","k":"grayc","lat":10.5,"dep":67.9},
      {"pn":"b","id":"gb5","k":"grayc","lat":10.9,"dep":59.8},

      {"pn":"b","id":"ob1","k":"line","lat":-4.5,"dep":0},
      {"pn":"b","id":"ob1","k":"line","lat":-4.2,"dep":21.0},
      {"pn":"b","id":"ob1","k":"line","lat":-3.6,"dep":37.2},
      {"pn":"b","id":"ob1","k":"line","lat":-2.3,"dep":43.6},
      {"pn":"b","id":"ob1","k":"line","lat":-1.4,"dep":39.6},
      {"pn":"b","id":"ob1","k":"line","lat":-1.1,"dep":33.1},
      {"pn":"b","id":"ob1","k":"line","lat":-0.7,"dep":42.0},
      {"pn":"b","id":"ob1","k":"line","lat":0.2,"dep":42.0},
      {"pn":"b","id":"ob1","k":"line","lat":1.4,"dep":33.1},
      {"pn":"b","id":"ob1","k":"line","lat":2.3,"dep":38.0},
      {"pn":"b","id":"ob1","k":"line","lat":3.6,"dep":41.2},
      {"pn":"b","id":"ob1","k":"line","lat":4.8,"dep":37.2},
      {"pn":"b","id":"ob1","k":"line","lat":5.2,"dep":25.9},
      {"pn":"b","id":"ob1","k":"line","lat":5.2,"dep":0},
      {"pn":"b","id":"ob2","k":"line","lat":7.4,"dep":43.6},
      {"pn":"b","id":"ob2","k":"line","lat":8.1,"dep":46.1},
      {"pn":"b","id":"ob2","k":"line","lat":8.7,"dep":66.3},
      {"pn":"b","id":"ob2","k":"line","lat":8.7,"dep":93.7},
      {"pn":"b","id":"ob2","k":"line","lat":8.4,"dep":118.0},
      {"pn":"b","id":"ob2","k":"line","lat":8.0,"dep":128.5},
      {"pn":"b","id":"ob2","k":"line","lat":7.5,"dep":130.9},
      {"pn":"b","id":"ob2","k":"line","lat":7.1,"dep":118.0},
      {"pn":"b","id":"ob2","k":"line","lat":6.1,"dep":80.0},
      {"pn":"b","id":"ob2","k":"line","lat":6.2,"dep":58.2},
      {"pn":"b","id":"ob2","k":"line","lat":6.9,"dep":46.1},
      {"pn":"b","id":"ob2","k":"line","lat":7.4,"dep":43.6},
      {"pn":"b","id":"ob3","k":"line","lat":-20.3,"dep":320},
      {"pn":"b","id":"ob3","k":"line","lat":-19.7,"dep":294.1},
      {"pn":"b","id":"ob3","k":"line","lat":-18.7,"dep":272.3},
      {"pn":"b","id":"ob3","k":"line","lat":-17.4,"dep":261.8},
      {"pn":"b","id":"ob3","k":"line","lat":-15.5,"dep":252.1},
      {"pn":"b","id":"ob3","k":"line","lat":-14.3,"dep":240.0},
      {"pn":"b","id":"ob3","k":"line","lat":-13.4,"dep":227.1},
      {"pn":"b","id":"ob4","k":"line","lat":-12.4,"dep":215.8},
      {"pn":"b","id":"ob4","k":"line","lat":-12.0,"dep":219.0},
      {"pn":"b","id":"ob4","k":"line","lat":-12.6,"dep":249.7},
      {"pn":"b","id":"ob4","k":"line","lat":-13.1,"dep":273.9},
      {"pn":"b","id":"ob4","k":"line","lat":-13.4,"dep":286.1},
      {"pn":"b","id":"ob4","k":"line","lat":-13.8,"dep":283.6},
      {"pn":"b","id":"ob4","k":"line","lat":-13.8,"dep":261.8},
      {"pn":"b","id":"ob4","k":"line","lat":-13.3,"dep":237.6},
      {"pn":"b","id":"ob4","k":"line","lat":-12.9,"dep":221.4},
      {"pn":"b","id":"ob4","k":"line","lat":-12.4,"dep":215.8},
      {"pn":"b","id":"ob5","k":"line","lat":-12.0,"dep":257.8},
      {"pn":"b","id":"ob5","k":"line","lat":-10.9,"dep":237.6},
      {"pn":"b","id":"ob5","k":"line","lat":-9.5,"dep":223.8},
      {"pn":"b","id":"ob5","k":"line","lat":-8.0,"dep":219.0},
      {"pn":"b","id":"ob5","k":"line","lat":-6.5,"dep":225.5},
      {"pn":"b","id":"ob5","k":"line","lat":-5.7,"dep":241.6},
      {"pn":"b","id":"ob5","k":"line","lat":-5.3,"dep":265.9},
      {"pn":"b","id":"ob5","k":"line","lat":-5.2,"dep":294.1},
      {"pn":"b","id":"ob5","k":"line","lat":-5.2,"dep":320},
      {"pn":"b","id":"ob6","k":"line","lat":6.1,"dep":320},
      {"pn":"b","id":"ob6","k":"line","lat":6.1,"dep":279.6},
      {"pn":"b","id":"ob6","k":"line","lat":6.5,"dep":276.4},
      {"pn":"b","id":"ob6","k":"line","lat":7.4,"dep":283.6},
      {"pn":"b","id":"ob6","k":"line","lat":8.1,"dep":287.7},
      {"pn":"b","id":"ob6","k":"line","lat":8.7,"dep":298.2},
      {"pn":"b","id":"ob6","k":"line","lat":9.0,"dep":320},
      {"pn":"b","id":"ob7","k":"line","lat":13.1,"dep":320},
      {"pn":"b","id":"ob7","k":"line","lat":13.0,"dep":252.1},
      {"pn":"b","id":"ob7","k":"line","lat":13.1,"dep":231.1},
      {"pn":"b","id":"ob7","k":"line","lat":14.0,"dep":201.2},
      {"pn":"b","id":"ob7","k":"line","lat":14.9,"dep":197.2},
      {"pn":"b","id":"ob7","k":"line","lat":15.7,"dep":203.6},
      {"pn":"b","id":"ob7","k":"line","lat":16.5,"dep":225.5},
      {"pn":"b","id":"ob7","k":"line","lat":17.7,"dep":260.2},
      {"pn":"b","id":"ob7","k":"line","lat":18.7,"dep":282.0},
      {"pn":"b","id":"ob7","k":"line","lat":19.9,"dep":298.2},
      {"pn":"b","id":"ob7","k":"line","lat":21.2,"dep":320},

      {"pn":"b","id":"s28","k":"iso","lat":2.7,"dep":0},
      {"pn":"b","id":"s28","k":"iso","lat":4.0,"dep":23.4},
      {"pn":"b","id":"s28","k":"iso","lat":6.2,"dep":33.1},
      {"pn":"b","id":"s28","k":"iso","lat":9.0,"dep":31.5},
      {"pn":"b","id":"s28","k":"iso","lat":12.4,"dep":23.4},
      {"pn":"b","id":"s28","k":"iso","lat":13.6,"dep":9.7},
      {"pn":"b","id":"s28","k":"iso","lat":13.6,"dep":0},
      {"pn":"b","id":"s26","k":"iso","lat":-13.6,"dep":0},
      {"pn":"b","id":"s26","k":"iso","lat":-12.8,"dep":17.8},
      {"pn":"b","id":"s26","k":"iso","lat":-11.1,"dep":31.5},
      {"pn":"b","id":"s26","k":"iso","lat":-8.6,"dep":42.0},
      {"pn":"b","id":"s26","k":"iso","lat":-4.5,"dep":50.1},
      {"pn":"b","id":"s26","k":"iso","lat":-1.4,"dep":59.8},
      {"pn":"b","id":"s26","k":"iso","lat":1.1,"dep":66.3},
      {"pn":"b","id":"s26","k":"iso","lat":4.0,"dep":73.5},
      {"pn":"b","id":"s26","k":"iso","lat":5.8,"dep":59.8},
      {"pn":"b","id":"s26","k":"iso","lat":7.7,"dep":43.6},
      {"pn":"b","id":"s26","k":"iso","lat":10.3,"dep":39.6},
      {"pn":"b","id":"s26","k":"iso","lat":14.0,"dep":43.6},
      {"pn":"b","id":"s26","k":"iso","lat":16.5,"dep":27.5},
      {"pn":"b","id":"s26","k":"iso","lat":17.5,"dep":0},
      {"pn":"b","id":"s24","k":"iso","lat":-21.4,"dep":0},
      {"pn":"b","id":"s24","k":"iso","lat":-20.8,"dep":21.0},
      {"pn":"b","id":"s24","k":"iso","lat":-19.1,"dep":47.7},
      {"pn":"b","id":"s24","k":"iso","lat":-17.8,"dep":63.8},
      {"pn":"b","id":"s24","k":"iso","lat":-16.5,"dep":74.3},
      {"pn":"b","id":"s24","k":"iso","lat":-14.3,"dep":81.6},
      {"pn":"b","id":"s24","k":"iso","lat":-11.1,"dep":81.6},
      {"pn":"b","id":"s24","k":"iso","lat":-7.4,"dep":76.0},
      {"pn":"b","id":"s24","k":"iso","lat":-3.6,"dep":76.0},
      {"pn":"b","id":"s24","k":"iso","lat":-0.2,"dep":82.4},
      {"pn":"b","id":"s24","k":"iso","lat":2.7,"dep":89.7},
      {"pn":"b","id":"s24","k":"iso","lat":5.8,"dep":92.1},
      {"pn":"b","id":"s24","k":"iso","lat":9.0,"dep":80.0},
      {"pn":"b","id":"s24","k":"iso","lat":12.1,"dep":67.9},
      {"pn":"b","id":"s24","k":"iso","lat":14.0,"dep":71.9},
      {"pn":"b","id":"s24","k":"iso","lat":15.7,"dep":85.7},
      {"pn":"b","id":"s24","k":"iso","lat":17.4,"dep":96.2},
      {"pn":"b","id":"s24","k":"iso","lat":18.4,"dep":71.9},
      {"pn":"b","id":"s24","k":"iso","lat":19.1,"dep":43.6},
      {"pn":"b","id":"s24","k":"iso","lat":19.3,"dep":23.4},
      {"pn":"b","id":"s24","k":"iso","lat":19.6,"dep":0},
      {"pn":"b","id":"s22","k":"iso","lat":-24.3,"dep":0},
      {"pn":"b","id":"s22","k":"iso","lat":-24.1,"dep":23.4},
      {"pn":"b","id":"s22","k":"iso","lat":-23.3,"dep":50.1},
      {"pn":"b","id":"s22","k":"iso","lat":-21.6,"dep":77.6},
      {"pn":"b","id":"s22","k":"iso","lat":-19.9,"dep":94.5},
      {"pn":"b","id":"s22","k":"iso","lat":-18.1,"dep":102.6},
      {"pn":"b","id":"s22","k":"iso","lat":-15.9,"dep":104.2},
      {"pn":"b","id":"s22","k":"iso","lat":-12.4,"dep":102.6},
      {"pn":"b","id":"s22","k":"iso","lat":-7.4,"dep":102.6},
      {"pn":"b","id":"s22","k":"iso","lat":-3.6,"dep":104.2},
      {"pn":"b","id":"s22","k":"iso","lat":0.2,"dep":106.7},
      {"pn":"b","id":"s22","k":"iso","lat":4.0,"dep":112.3},
      {"pn":"b","id":"s22","k":"iso","lat":7.7,"dep":120.4},
      {"pn":"b","id":"s22","k":"iso","lat":11.5,"dep":126.9},
      {"pn":"b","id":"s22","k":"iso","lat":14.0,"dep":130.9},
      {"pn":"b","id":"s22","k":"iso","lat":15.9,"dep":134.1},
      {"pn":"b","id":"s22","k":"iso","lat":18.2,"dep":118.0},
      {"pn":"b","id":"s22","k":"iso","lat":19.4,"dep":90.5},
      {"pn":"b","id":"s22","k":"iso","lat":20.7,"dep":63.8},
      {"pn":"b","id":"s22","k":"iso","lat":21.6,"dep":31.5},
      {"pn":"b","id":"s22","k":"iso","lat":21.8,"dep":0},
      {"pn":"b","id":"s22r","k":"iso","lat":24.5,"dep":0},
      {"pn":"b","id":"s22r","k":"iso","lat":24.3,"dep":37.2},
      {"pn":"b","id":"s22r","k":"iso","lat":23.2,"dep":63.8},
      {"pn":"b","id":"s22r","k":"iso","lat":21.9,"dep":104.2},
      {"pn":"b","id":"s22r","k":"iso","lat":20.9,"dep":132.5},
      {"pn":"b","id":"s22r","k":"iso","lat":21.6,"dep":147.1},
      {"pn":"b","id":"s22r","k":"iso","lat":23.2,"dep":152.7},
      {"pn":"b","id":"s22r","k":"iso","lat":25.7,"dep":171.3},
      {"pn":"b","id":"s22r","k":"iso","lat":28.2,"dep":168.9},
      {"pn":"b","id":"s22r","k":"iso","lat":30,"dep":166.5},
      {"pn":"b","id":"s20","k":"iso","lat":-30,"dep":50.1},
      {"pn":"b","id":"s20","k":"iso","lat":-27.9,"dep":58.2},
      {"pn":"b","id":"s20","k":"iso","lat":-27.1,"dep":77.6},
      {"pn":"b","id":"s20","k":"iso","lat":-25.8,"dep":98.6},
      {"pn":"b","id":"s20","k":"iso","lat":-24.1,"dep":122.8},
      {"pn":"b","id":"s20","k":"iso","lat":-22.8,"dep":136.6},
      {"pn":"b","id":"s20","k":"iso","lat":-21.6,"dep":144.6},
      {"pn":"b","id":"s20","k":"iso","lat":-19.3,"dep":154.3},
      {"pn":"b","id":"s20","k":"iso","lat":-16.2,"dep":163.2},
      {"pn":"b","id":"s20","k":"iso","lat":-13.0,"dep":152.7},
      {"pn":"b","id":"s20","k":"iso","lat":-9.9,"dep":140.6},
      {"pn":"b","id":"s20","k":"iso","lat":-6.1,"dep":132.5},
      {"pn":"b","id":"s20","k":"iso","lat":-2.3,"dep":128.5},
      {"pn":"b","id":"s20","k":"iso","lat":1.4,"dep":128.5},
      {"pn":"b","id":"s20","k":"iso","lat":4.6,"dep":130.9},
      {"pn":"b","id":"s20","k":"iso","lat":7.1,"dep":136.6},
      {"pn":"b","id":"s20","k":"iso","lat":10.3,"dep":140.6},
      {"pn":"b","id":"s20","k":"iso","lat":13.4,"dep":144.6},
      {"pn":"b","id":"s20","k":"iso","lat":15.3,"dep":168.9},
      {"pn":"b","id":"s20","k":"iso","lat":16.8,"dep":225.5},
      {"pn":"b","id":"s20","k":"iso","lat":17.7,"dep":273.9},
      {"pn":"b","id":"s20","k":"iso","lat":18.4,"dep":320},
      {"pn":"b","id":"s18","k":"iso","lat":-30,"dep":253.7},
      {"pn":"b","id":"s18","k":"iso","lat":-27.5,"dep":240.0},
      {"pn":"b","id":"s18","k":"iso","lat":-25.0,"dep":233.5},
      {"pn":"b","id":"s18","k":"iso","lat":-22.5,"dep":221.4},
      {"pn":"b","id":"s18","k":"iso","lat":-19.9,"dep":205.3},
      {"pn":"b","id":"s18","k":"iso","lat":-17.4,"dep":189.1},
      {"pn":"b","id":"s18","k":"iso","lat":-14.9,"dep":177.0},
      {"pn":"b","id":"s18","k":"iso","lat":-11.8,"dep":168.9},
      {"pn":"b","id":"s18","k":"iso","lat":-8.6,"dep":156.8},
      {"pn":"b","id":"s18","k":"iso","lat":-4.8,"dep":151.1},
      {"pn":"b","id":"s18","k":"iso","lat":-1.1,"dep":148.7},
      {"pn":"b","id":"s18","k":"iso","lat":2.7,"dep":147.1},
      {"pn":"b","id":"s18","k":"iso","lat":5.8,"dep":147.1},
      {"pn":"b","id":"s18","k":"iso","lat":9.0,"dep":152.7},
      {"pn":"b","id":"s18","k":"iso","lat":12.1,"dep":156.8},
      {"pn":"b","id":"s18","k":"iso","lat":14.0,"dep":181.0},
      {"pn":"b","id":"s18","k":"iso","lat":15.3,"dep":225.5},
      {"pn":"b","id":"s18","k":"iso","lat":16.2,"dep":273.9},
      {"pn":"b","id":"s18","k":"iso","lat":16.8,"dep":320},
      {"pn":"b","id":"s16","k":"iso","lat":-23.3,"dep":320},
      {"pn":"b","id":"s16","k":"iso","lat":-21.6,"dep":279.6},
      {"pn":"b","id":"s16","k":"iso","lat":-19.6,"dep":257.8},
      {"pn":"b","id":"s16","k":"iso","lat":-17.0,"dep":244.0},
      {"pn":"b","id":"s16","k":"iso","lat":-14.5,"dep":229.5},
      {"pn":"b","id":"s16","k":"iso","lat":-11.8,"dep":209.3},
      {"pn":"b","id":"s16","k":"iso","lat":-9.2,"dep":191.5},
      {"pn":"b","id":"s16","k":"iso","lat":-7.4,"dep":178.6},
      {"pn":"b","id":"s16","k":"iso","lat":-4.2,"dep":170.5},
      {"pn":"b","id":"s16","k":"iso","lat":-0.4,"dep":167.3},
      {"pn":"b","id":"s16","k":"iso","lat":3.3,"dep":164.8},
      {"pn":"b","id":"s16","k":"iso","lat":7.1,"dep":162.4},
      {"pn":"b","id":"s16","k":"iso","lat":9.6,"dep":164.8},
      {"pn":"b","id":"s16","k":"iso","lat":11.3,"dep":181.0},
      {"pn":"b","id":"s16","k":"iso","lat":12.5,"dep":217.4},
      {"pn":"b","id":"s16","k":"iso","lat":13.4,"dep":265.9},
      {"pn":"b","id":"s16","k":"iso","lat":14.0,"dep":320},
      {"pn":"b","id":"s14","k":"iso","lat":-16.2,"dep":320},
      {"pn":"b","id":"s14","k":"iso","lat":-15.5,"dep":294.1},
      {"pn":"b","id":"s14","k":"iso","lat":-14.3,"dep":273.9},
      {"pn":"b","id":"s14","k":"iso","lat":-12.4,"dep":253.7},
      {"pn":"b","id":"s14","k":"iso","lat":-10.5,"dep":233.5},
      {"pn":"b","id":"s14","k":"iso","lat":-8.6,"dep":213.3},
      {"pn":"b","id":"s14","k":"iso","lat":-6.7,"dep":197.2},
      {"pn":"b","id":"s14","k":"iso","lat":-4.2,"dep":186.7},
      {"pn":"b","id":"s14","k":"iso","lat":-0.4,"dep":182.6},
      {"pn":"b","id":"s14","k":"iso","lat":3.3,"dep":180.2},
      {"pn":"b","id":"s14","k":"iso","lat":7.1,"dep":177.0},
      {"pn":"b","id":"s14","k":"iso","lat":9.0,"dep":181.0},
      {"pn":"b","id":"s14","k":"iso","lat":10.3,"dep":201.2},
      {"pn":"b","id":"s14","k":"iso","lat":11.3,"dep":241.6},
      {"pn":"b","id":"s14","k":"iso","lat":11.9,"dep":320},
      {"pn":"b","id":"s12","k":"iso","lat":-13.6,"dep":320},
      {"pn":"b","id":"s12","k":"iso","lat":-12.4,"dep":290.1},
      {"pn":"b","id":"s12","k":"iso","lat":-10.5,"dep":261.8},
      {"pn":"b","id":"s12","k":"iso","lat":-8.6,"dep":241.6},
      {"pn":"b","id":"s12","k":"iso","lat":-6.1,"dep":225.5},
      {"pn":"b","id":"s12","k":"iso","lat":-1.9,"dep":213.3},
      {"pn":"b","id":"s12","k":"iso","lat":1.1,"dep":217.4},
      {"pn":"b","id":"s12","k":"iso","lat":4.8,"dep":219.0},
      {"pn":"b","id":"s12","k":"iso","lat":7.4,"dep":211.7},
      {"pn":"b","id":"s12","k":"iso","lat":8.7,"dep":201.2},
      {"pn":"b","id":"s12","k":"iso","lat":9.6,"dep":217.4},
      {"pn":"b","id":"s12","k":"iso","lat":10.3,"dep":257.8},
      {"pn":"b","id":"s12","k":"iso","lat":10.5,"dep":320},
      {"pn":"b","id":"h1b","k":"iso","lat":-11.4,"dep":320},
      {"pn":"b","id":"h1b","k":"iso","lat":-11.1,"dep":290.1},
      {"pn":"b","id":"h1b","k":"iso","lat":-9.9,"dep":280.4},
      {"pn":"b","id":"h1b","k":"iso","lat":-7.7,"dep":278.0},
      {"pn":"b","id":"h1b","k":"iso","lat":-6.1,"dep":282.0},
      {"pn":"b","id":"h1b","k":"iso","lat":-5.5,"dep":298.2},
      {"pn":"b","id":"h1b","k":"iso","lat":-5.2,"dep":320},
      {"pn":"b","id":"h2b","k":"iso","lat":-2.3,"dep":320},
      {"pn":"b","id":"h2b","k":"iso","lat":-1.1,"dep":279.6},
      {"pn":"b","id":"h2b","k":"iso","lat":0.2,"dep":276.4},
      {"pn":"b","id":"h2b","k":"iso","lat":1.4,"dep":282.0},
      {"pn":"b","id":"h2b","k":"iso","lat":1.8,"dep":320},
      {"pn":"b","id":"s16r","k":"iso","lat":17.2,"dep":168.9},
      {"pn":"b","id":"s16r","k":"iso","lat":19.1,"dep":181.0},
      {"pn":"b","id":"s16r","k":"iso","lat":21.2,"dep":198.8},
      {"pn":"b","id":"s16r","k":"iso","lat":23.7,"dep":211.7},
      {"pn":"b","id":"s16r","k":"iso","lat":25.7,"dep":223.0},
      {"pn":"b","id":"s16r","k":"iso","lat":27.9,"dep":219.8},
      {"pn":"b","id":"s16r","k":"iso","lat":30,"dep":217.4},
      {"pn":"b","id":"srb","k":"iso","lat":19.1,"dep":249.7},
      {"pn":"b","id":"srb","k":"iso","lat":22.5,"dep":257.8},
      {"pn":"b","id":"srb","k":"iso","lat":25.7,"dep":276.4},
      {"pn":"b","id":"srb","k":"iso","lat":27.9,"dep":275.6},
      {"pn":"b","id":"srb","k":"iso","lat":30,"dep":273.9}
    ],
    "labels": [
      {"pn":"a","kind":"neg","lat":-9.7,"dep":59.8,"txt":"-0.5"},
      {"pn":"a","kind":"neg","lat":11.6,"dep":39.6,"txt":"-0.5"},
      {"pn":"a","kind":"neg","lat":-9.8,"dep":165.7,"txt":"-1"},
      {"pn":"a","kind":"neg","lat":-0.9,"dep":167.3,"txt":"-1"},
      {"pn":"a","kind":"neg","lat":-12.5,"dep":202.8,"txt":"-0.5"},
      {"pn":"a","kind":"neg","lat":4.3,"dep":252.1,"txt":"-0.5"},
      {"pn":"a","kind":"iso","lat":6.2,"dep":33.1,"txt":"28"},
      {"pn":"a","kind":"iso","lat":11.6,"dep":54.1,"txt":"26"},
      {"pn":"a","kind":"iso","lat":-0.1,"dep":84.0,"txt":"24"},
      {"pn":"a","kind":"iso","lat":15.7,"dep":88.1,"txt":"24"},
      {"pn":"a","kind":"iso","lat":0.3,"dep":104.2,"txt":"22"},
      {"pn":"a","kind":"iso","lat":15.7,"dep":130.9,"txt":"22"},
      {"pn":"a","kind":"iso","lat":-16.3,"dep":163.2,"txt":"20"},
      {"pn":"a","kind":"iso","lat":4.4,"dep":126.1,"txt":"20"},
      {"pn":"a","kind":"iso","lat":20.7,"dep":144.6,"txt":"20"},
      {"pn":"a","kind":"iso","lat":-25.0,"dep":235.2,"txt":"18"},
      {"pn":"a","kind":"iso","lat":4.4,"dep":142.2,"txt":"18"},
      {"pn":"a","kind":"iso","lat":21.0,"dep":198.8,"txt":"18"},
      {"pn":"a","kind":"iso","lat":-7.6,"dep":167.3,"txt":"16"},
      {"pn":"a","kind":"iso","lat":-7.6,"dep":183.4,"txt":"14"},
      {"pn":"a","kind":"iso","lat":9.1,"dep":178.6,"txt":"14"},
      {"pn":"a","kind":"iso","lat":-6.3,"dep":203.6,"txt":"12"},
      {"pn":"b","kind":"neg","lat":-6.5,"dep":42.0,"txt":"-0.5"},
      {"pn":"b","kind":"neg","lat":-27.2,"dep":231.1,"txt":"-0.5"},
      {"pn":"b","kind":"neg","lat":-11.5,"dep":150.3,"txt":"-0.5"},
      {"pn":"b","kind":"neg","lat":3.3,"dep":130.9,"txt":"-0.2"},
      {"pn":"b","kind":"neg","lat":11.5,"dep":136.6,"txt":"-0.5"},
      {"pn":"b","kind":"iso","lat":6.2,"dep":33.1,"txt":"28"},
      {"pn":"b","kind":"iso","lat":4.0,"dep":73.5,"txt":"26"},
      {"pn":"b","kind":"iso","lat":-0.2,"dep":82.4,"txt":"24"},
      {"pn":"b","kind":"iso","lat":0.2,"dep":106.7,"txt":"22"},
      {"pn":"b","kind":"iso","lat":15.7,"dep":85.7,"txt":"24"},
      {"pn":"b","kind":"iso","lat":15.9,"dep":134.1,"txt":"22"},
      {"pn":"b","kind":"iso","lat":-16.2,"dep":163.2,"txt":"20"},
      {"pn":"b","kind":"iso","lat":-24.7,"dep":233.5,"txt":"18"},
      {"pn":"b","kind":"iso","lat":5.9,"dep":134.0,"txt":"20"},
      {"pn":"b","kind":"iso","lat":5.8,"dep":147.1,"txt":"18"},
      {"pn":"b","kind":"iso","lat":-7.4,"dep":178.6,"txt":"16"},
      {"pn":"b","kind":"iso","lat":-6.7,"dep":197.2,"txt":"14"},
      {"pn":"b","kind":"iso","lat":8.7,"dep":201.2,"txt":"12"},
      {"pn":"b","kind":"iso","lat":20.9,"dep":132.5,"txt":"20"},
      {"pn":"b","kind":"iso","lat":21.2,"dep":198.8,"txt":"16"}
    ],
    "grid": [
      {"pn":"a","dep":20,"tone":"faint"},
      {"pn":"a","dep":80,"tone":"strong"},
      {"pn":"a","dep":140,"tone":"strong"},
      {"pn":"a","dep":200,"tone":"mid"},
      {"pn":"a","dep":260,"tone":"faint"},
      {"pn":"b","dep":20,"tone":"pale"},
      {"pn":"b","dep":80,"tone":"pale"},
      {"pn":"b","dep":140,"tone":"pale"},
      {"pn":"b","dep":200,"tone":"pale"},
      {"pn":"b","dep":260,"tone":"pale"}
    ],
    "dots": [
      {"pn":"a","dep":248},
      {"pn":"a","dep":300},
      {"pn":"b","dep":248},
      {"pn":"b","dep":300}
    ],
    "frame": [{"dep":0}]
  },
  "hconcat": [
    {
      "width": 479,
      "height": 396,
      "title": {"text": "(a)", "anchor": "start", "frame": "group", "dx": -51, "offset": -19, "fontSize": 18, "fontWeight": "normal", "color": "#222", "font": "Liberation Sans"},
      "layer": [
        {
          "data": {"name": "paths"},
          "transform": [{"filter": "datum.pn == 'a'"}],
          "encoding": {
            "x": {"field": "lat", "type": "quantitative", "scale": {"domain": [-30, 30], "nice": false, "zero": false},
              "axis": {"values": [-30,-25,-20,-15,-10,-5,0,5,10,15,20,25,30], "labelExpr": "datum.value < 0 ? (-datum.value) + 'S' : (datum.value > 0 ? datum.value + 'N' : 'EQ')", "title": "Latitude", "titleFontSize": 22, "titlePadding": 40, "tickSize": 5, "domainColor": "#1a1a1a", "domainWidth": 3, "labelPadding": 6, "labelFontSize": 20}},
            "y": {"field": "dep", "type": "quantitative", "scale": {"domain": [0, 320], "reverse": true, "nice": false, "zero": false},
              "axis": {"orient": "left", "values": [0,50,100,150,200,250,300], "title": "Depth（m）", "titleFont": "Liberation Sans, Noto Sans CJK SC", "titleFontSize": 24, "titlePadding": 14, "tickSize": 5, "labelPadding": 0, "domainColor": "#8c8c8c", "domainWidth": 2.5}}
          },
          "layer": [
            {"transform": [{"filter": "datum.k == 'gray'"}], "mark": {"type": "line", "fill": "#9d9d9d", "stroke": "#1c1c1c", "strokeWidth": 2, "interpolate": "linear-closed", "clip": true}, "encoding": {"detail": {"field": "id"}, "order": {"value": null}}},
            {"transform": [{"filter": "datum.k == 'dark'"}], "mark": {"type": "line", "fill": "#3b3b3b", "stroke": "#111", "strokeWidth": 2, "interpolate": "cardinal-closed", "clip": true}, "encoding": {"detail": {"field": "id"}, "order": {"value": null}}},
            {"transform": [{"filter": "datum.k == 'hole'"}], "mark": {"type": "line", "fill": "#ffffff", "stroke": "#111", "strokeWidth": 2, "interpolate": "cardinal-closed", "clip": true}, "encoding": {"detail": {"field": "id"}, "order": {"value": null}}},
            {"transform": [{"filter": "datum.k == 'iso'"}], "mark": {"type": "line", "stroke": "#000", "strokeOpacity": 0.4, "strokeWidth": 1.1, "strokeDash": [3, 3], "interpolate": "catmull-rom", "clip": true}, "encoding": {"detail": {"field": "id"}, "order": {"value": null}}},
            {"transform": [{"filter": "datum.k == 'line'"}], "mark": {"type": "line", "stroke": "#1c1c1c", "strokeWidth": 2, "interpolate": "catmull-rom", "clip": true}, "encoding": {"detail": {"field": "id"}, "order": {"value": null}}}
          ]
        },
        {
          "data": {"name": "labels"},
          "transform": [{"filter": "datum.pn == 'a'"}],
          "encoding": {
            "x": {"field": "lat", "type": "quantitative", "scale": {"domain": [-30, 30], "nice": false, "zero": false}, "axis": null},
            "y": {"field": "dep", "type": "quantitative", "scale": {"domain": [0, 320], "reverse": true, "nice": false, "zero": false}, "axis": null}
          },
          "layer": [
            {"transform": [{"filter": "datum.kind == 'iso'"}], "mark": {"type": "point", "shape": "M-1,-0.8H1V0.8H-1Z", "size": 196, "filled": true, "fill": "#ffffff", "opacity": 1, "strokeWidth": 0}},
            {"transform": [{"filter": "datum.kind == 'neg'"}], "mark": {"type": "point", "shape": "M-1,-0.5H1V0.5H-1Z", "size": 484, "filled": true, "fill": "#ffffff", "opacity": 1, "strokeWidth": 0}},
            {"transform": [{"filter": "datum.kind == 'iso'"}], "mark": {"type": "text", "font": "Liberation Sans", "fontSize": 11, "color": "#666"}, "encoding": {"text": {"field": "txt"}}},
            {"transform": [{"filter": "datum.kind == 'neg'"}], "mark": {"type": "text", "font": "Liberation Sans", "fontSize": 12, "fontWeight": "bold", "color": "#111"}, "encoding": {"text": {"field": "txt"}}}
          ]
        },
        {
          "data": {"name": "grid"},
          "transform": [{"filter": "datum.pn == 'a'"}],
          "mark": {"type": "rule", "strokeWidth": 1.5},
          "encoding": {
            "y": {"field": "dep", "type": "quantitative", "scale": {"domain": [0, 320], "reverse": true, "nice": false, "zero": false}, "axis": null},
            "color": {"field": "tone", "type": "nominal", "scale": {"domain": ["faint", "mid", "strong", "pale"], "range": ["rgba(0,0,0,0.12)", "rgba(0,0,0,0.3)", "rgba(0,0,0,0.33)", "rgba(226,226,226,0.9)"]}, "legend": null}
          }
        },
        {
          "data": {"name": "dots"},
          "transform": [{"filter": "datum.pn == 'a'"}],
          "mark": {"type": "rule", "strokeWidth": 1.5, "stroke": "#bdbdbd", "strokeDash": [1.5, 4]},
          "encoding": {
            "y": {"field": "dep", "type": "quantitative", "scale": {"domain": [0, 320], "reverse": true, "nice": false, "zero": false}, "axis": null}
          }
        },
        {
          "data": {"name": "frame"},
          "mark": {"type": "rule", "stroke": "#111", "strokeWidth": 5},
          "encoding": {
            "y": {"field": "dep", "type": "quantitative", "scale": {"domain": [0, 320], "reverse": true, "nice": false, "zero": false},
              "axis": {"orient": "right", "values": [0,50,100,150,200,250,300], "title": null, "tickSize": 4, "labelPadding": 0, "domainColor": "#4a4a4a", "domainWidth": 2.5}}
          }
        }
      ],
      "resolve": {"axis": {"y": "independent", "x": "independent"}}
    },
    {
      "width": 477,
      "height": 396,
      "title": {"text": "(b)", "anchor": "start", "frame": "group", "dx": -52, "offset": -19, "fontSize": 18, "fontWeight": "normal", "color": "#222", "font": "Liberation Sans"},
      "layer": [
        {
          "data": {"name": "paths"},
          "transform": [{"filter": "datum.pn == 'b'"}],
          "encoding": {
            "x": {"field": "lat", "type": "quantitative", "scale": {"domain": [-30, 30], "nice": false, "zero": false},
              "axis": {"values": [-30,-25,-20,-15,-10,-5,0,5,10,15,20,25,30], "labelExpr": "datum.value < 0 ? (-datum.value) + 'S' : (datum.value > 0 ? datum.value + 'N' : 'EQ')", "title": "Latitude", "titleFontSize": 22, "titlePadding": 40, "tickSize": 5, "domainColor": "#1a1a1a", "domainWidth": 3, "labelPadding": 6, "labelFontSize": 20}},
            "y": {"field": "dep", "type": "quantitative", "scale": {"domain": [0, 320], "reverse": true, "nice": false, "zero": false},
              "axis": {"orient": "left", "values": [0,50,100,150,200,250,300], "title": "Depth（m）", "titleFont": "Liberation Sans, Noto Sans CJK SC", "titleFontSize": 24, "titlePadding": 14, "tickSize": 5, "labelPadding": 0, "domainColor": "#8c8c8c", "domainWidth": 2.5}}
          },
          "layer": [
            {"transform": [{"filter": "datum.k == 'gray'"}], "mark": {"type": "line", "fill": "#9d9d9d", "stroke": "#1c1c1c", "strokeWidth": 2, "interpolate": "linear-closed", "clip": true}, "encoding": {"detail": {"field": "id"}, "order": {"value": null}}},
            {"transform": [{"filter": "datum.k == 'grayc'"}], "mark": {"type": "line", "fill": "#9d9d9d", "stroke": "#1c1c1c", "strokeWidth": 2, "interpolate": "cardinal-closed", "clip": true}, "encoding": {"detail": {"field": "id"}, "order": {"value": null}}},
            {"transform": [{"filter": "datum.k == 'iso'"}], "mark": {"type": "line", "stroke": "#000", "strokeOpacity": 0.4, "strokeWidth": 1.1, "strokeDash": [3, 3], "interpolate": "catmull-rom", "clip": true}, "encoding": {"detail": {"field": "id"}, "order": {"value": null}}},
            {"transform": [{"filter": "datum.k == 'line'"}], "mark": {"type": "line", "stroke": "#1c1c1c", "strokeWidth": 2, "interpolate": "catmull-rom", "clip": true}, "encoding": {"detail": {"field": "id"}, "order": {"value": null}}}
          ]
        },
        {
          "data": {"name": "labels"},
          "transform": [{"filter": "datum.pn == 'b'"}],
          "encoding": {
            "x": {"field": "lat", "type": "quantitative", "scale": {"domain": [-30, 30], "nice": false, "zero": false}, "axis": null},
            "y": {"field": "dep", "type": "quantitative", "scale": {"domain": [0, 320], "reverse": true, "nice": false, "zero": false}, "axis": null}
          },
          "layer": [
            {"transform": [{"filter": "datum.kind == 'iso'"}], "mark": {"type": "point", "shape": "M-1,-0.8H1V0.8H-1Z", "size": 196, "filled": true, "fill": "#ffffff", "opacity": 1, "strokeWidth": 0}},
            {"transform": [{"filter": "datum.kind == 'neg'"}], "mark": {"type": "point", "shape": "M-1,-0.5H1V0.5H-1Z", "size": 484, "filled": true, "fill": "#ffffff", "opacity": 1, "strokeWidth": 0}},
            {"transform": [{"filter": "datum.kind == 'iso'"}], "mark": {"type": "text", "font": "Liberation Sans", "fontSize": 11, "color": "#666"}, "encoding": {"text": {"field": "txt"}}},
            {"transform": [{"filter": "datum.kind == 'neg'"}], "mark": {"type": "text", "font": "Liberation Sans", "fontSize": 12, "fontWeight": "bold", "color": "#111"}, "encoding": {"text": {"field": "txt"}}}
          ]
        },
        {
          "data": {"name": "grid"},
          "transform": [{"filter": "datum.pn == 'b'"}],
          "mark": {"type": "rule", "strokeWidth": 1.5},
          "encoding": {
            "y": {"field": "dep", "type": "quantitative", "scale": {"domain": [0, 320], "reverse": true, "nice": false, "zero": false}, "axis": null},
            "color": {"field": "tone", "type": "nominal", "scale": {"domain": ["faint", "mid", "strong", "pale"], "range": ["rgba(0,0,0,0.12)", "rgba(0,0,0,0.3)", "rgba(0,0,0,0.33)", "rgba(226,226,226,0.9)"]}, "legend": null}
          }
        },
        {
          "data": {"name": "dots"},
          "transform": [{"filter": "datum.pn == 'b'"}],
          "mark": {"type": "rule", "strokeWidth": 1.5, "stroke": "#bdbdbd", "strokeDash": [1.5, 4]},
          "encoding": {
            "y": {"field": "dep", "type": "quantitative", "scale": {"domain": [0, 320], "reverse": true, "nice": false, "zero": false}, "axis": null}
          }
        },
        {
          "data": {"name": "frame"},
          "mark": {"type": "rule", "stroke": "#111", "strokeWidth": 5},
          "encoding": {
            "y": {"field": "dep", "type": "quantitative", "scale": {"domain": [0, 320], "reverse": true, "nice": false, "zero": false},
              "axis": {"orient": "right", "values": [0,50,100,150,200,250,300], "title": null, "tickSize": 4, "labelPadding": 0, "domainColor": "#4a4a4a", "domainWidth": 2.5}}
          }
        }
      ],
      "resolve": {"axis": {"y": "independent", "x": "independent"}}
    }
  ]
}
